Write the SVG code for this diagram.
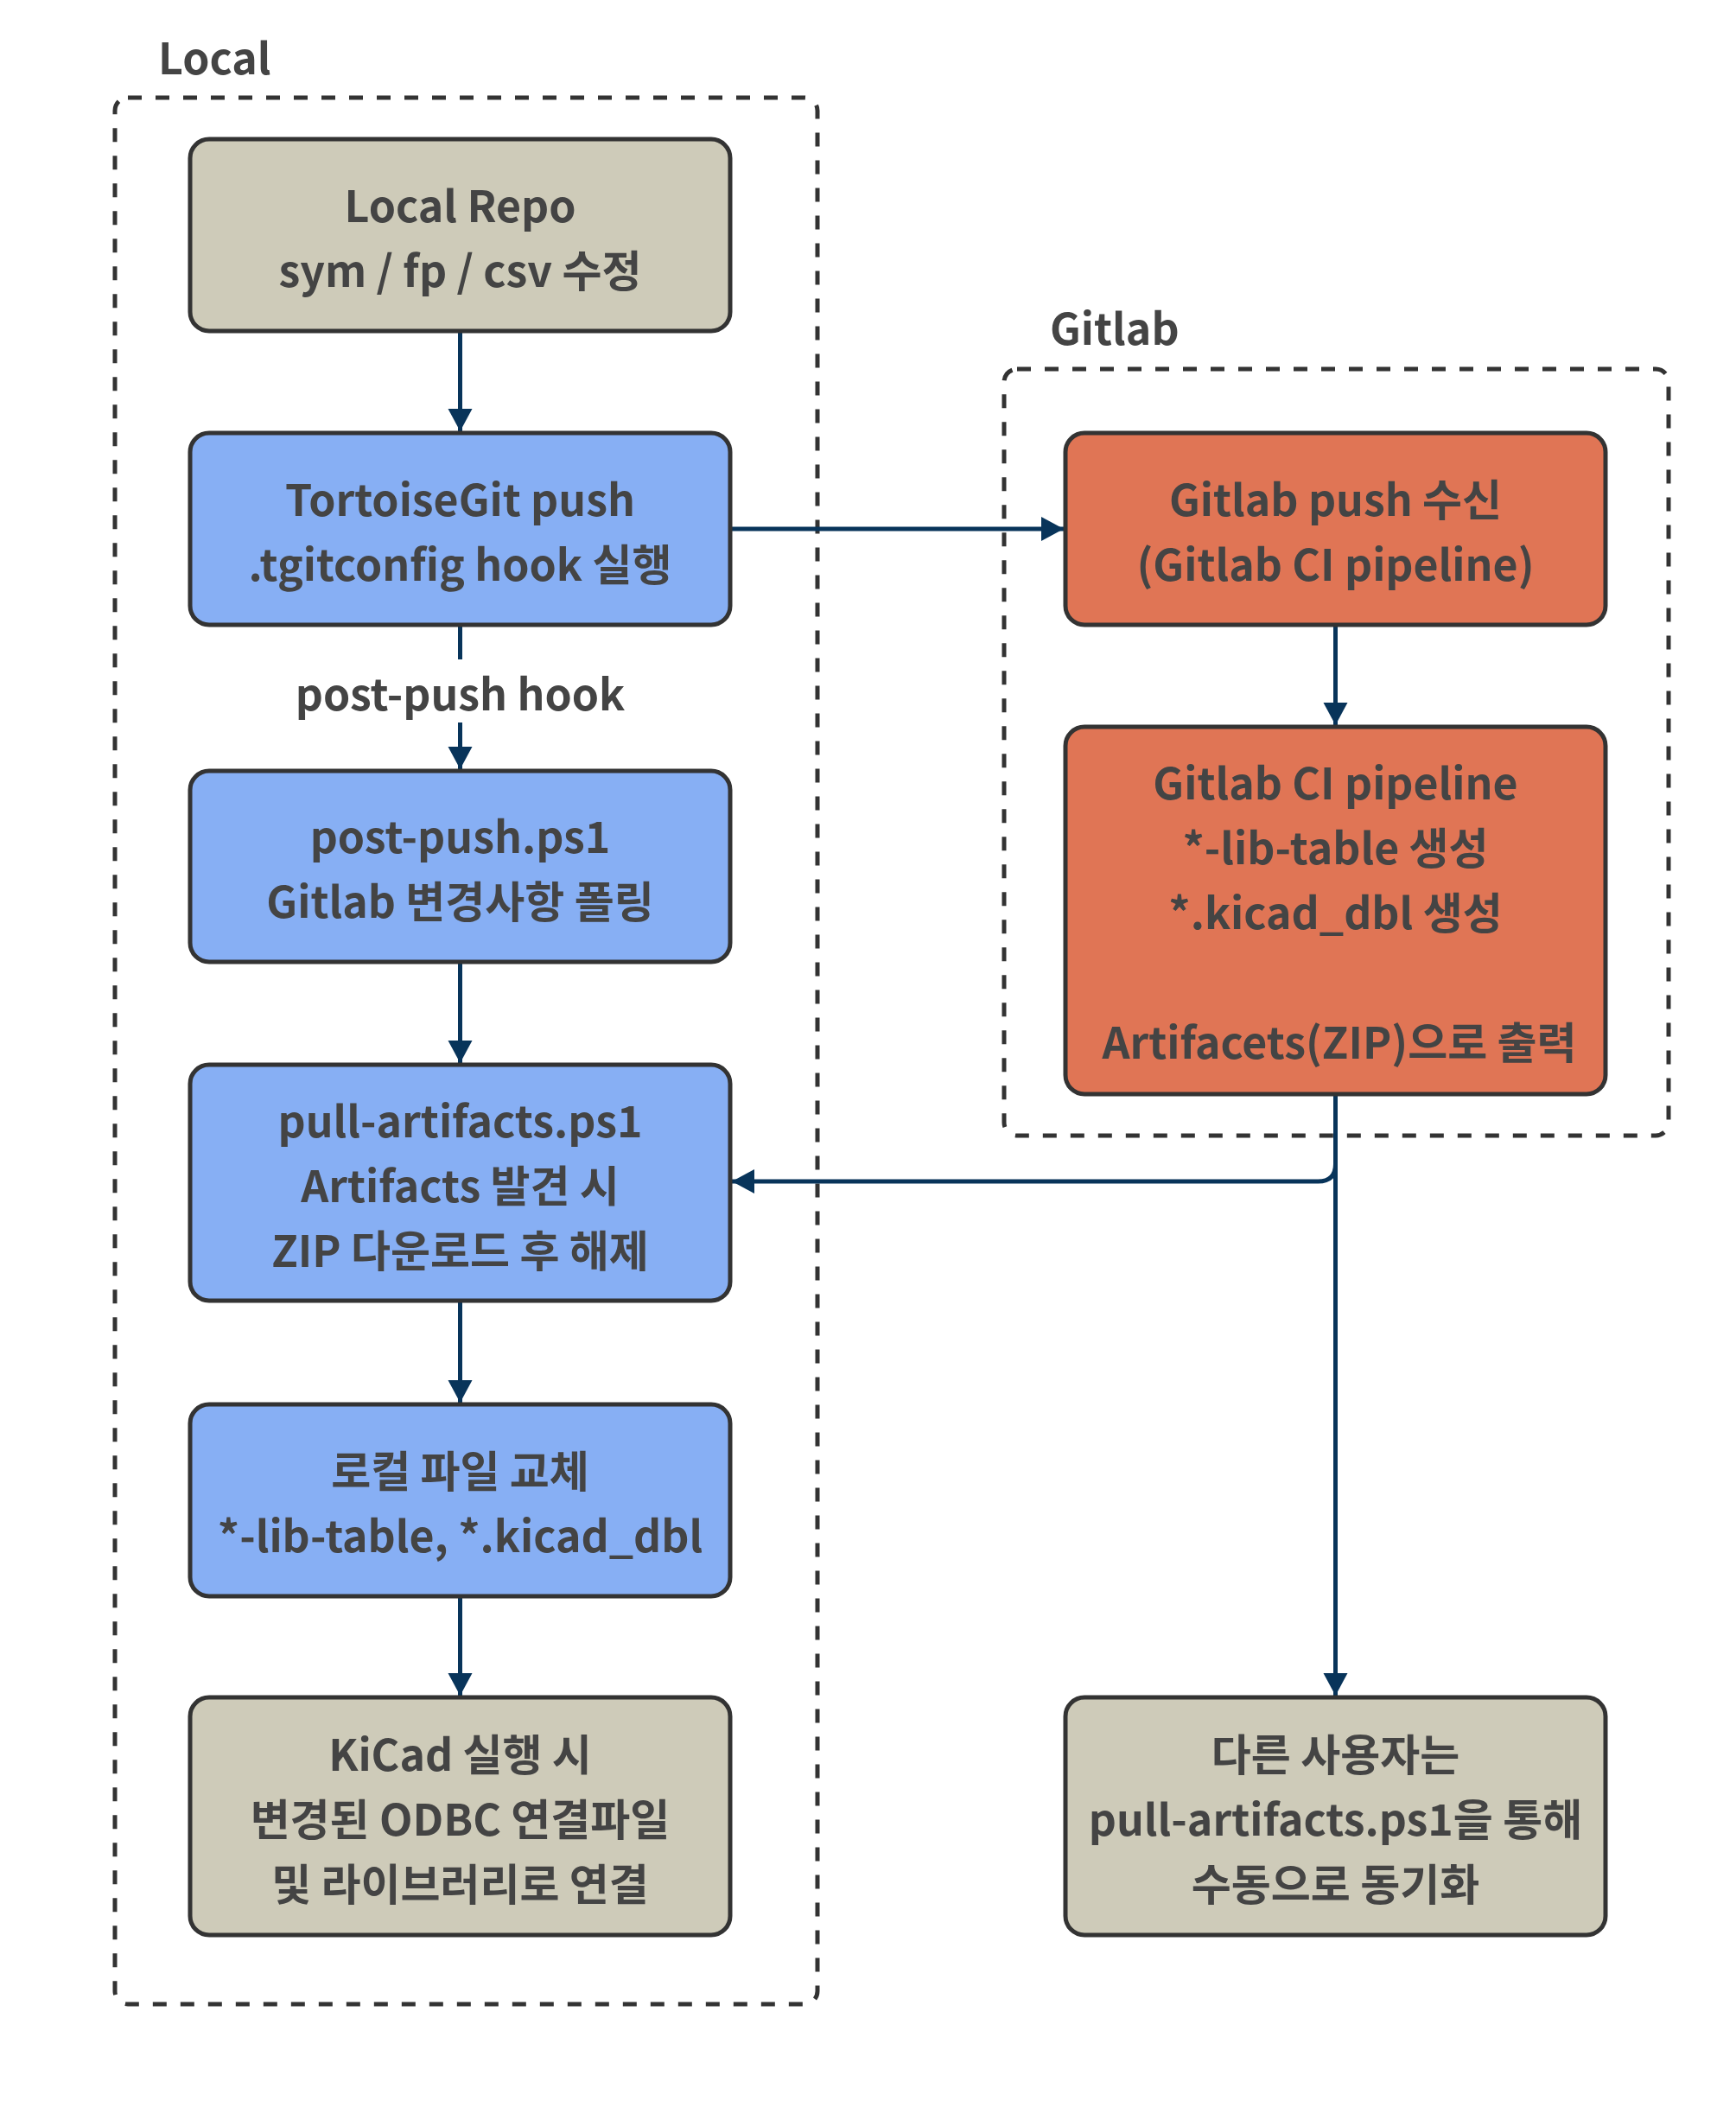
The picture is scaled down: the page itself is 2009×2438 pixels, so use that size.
<svg xmlns="http://www.w3.org/2000/svg" width="2009" height="2438" viewBox="0 0 2009 2438">
<style>
  text { font-family: "Noto Sans CJK KR", "Noto Sans", sans-serif; font-weight: 700; font-size: 50px; fill: #444444; }
  .lbl { text-anchor: middle; }
  .node rect { stroke: #333333; stroke-width: 5; }
  .tan { fill: #cecbb9; }
  .blue { fill: #87aff4; }
  .orange { fill: #e07555; }
  .group { fill: none; stroke: #333333; stroke-width: 5; stroke-dasharray: 16 16; }
  .edge { fill: none; stroke: #08345a; stroke-width: 5; }
</style>
<defs>
  <marker id="arrow" markerUnits="userSpaceOnUse" markerWidth="27" markerHeight="29" refX="26" refY="14" orient="auto">
    <path d="M0,0 L26,14 L0,28 z" fill="#08345a"/>
  </marker>
</defs>
<rect width="2009" height="2438" fill="#ffffff"/>

<g id="group-local">
  <rect class="group" x="133" y="113" width="813" height="2206" rx="15"/>
  <text x="183" y="86">Local</text>
</g>
<g id="group-gitlab">
  <rect class="group" x="1162" y="427" width="769" height="887" rx="15"/>
  <text x="1215" y="399">Gitlab</text>
</g>

<g id="connectors">
  <path class="edge" d="M532.5,383 V499" marker-end="url(#arrow)"/>
  <path class="edge" d="M532.5,723 V890" marker-end="url(#arrow)"/>
  <path class="edge" d="M532.5,1113 V1230" marker-end="url(#arrow)"/>
  <path class="edge" d="M532.5,1505 V1623" marker-end="url(#arrow)"/>
  <path class="edge" d="M532.5,1847 V1962" marker-end="url(#arrow)"/>
  <path class="edge" d="M845,612 H1231" marker-end="url(#arrow)"/>
  <path class="edge" d="M1545.5,723 V839" marker-end="url(#arrow)"/>
  <path class="edge" d="M1545.5,1266 V1347 Q1545.5,1367 1525.5,1367 H847" marker-end="url(#arrow)"/>
  <path class="edge" d="M1545.5,1266 V1962" marker-end="url(#arrow)"/>
  <g id="edge-label-post-push">
    <rect x="340" y="763" width="385" height="73" fill="#ffffff"/>
    <text class="lbl" x="532.5" y="822">post-push hook</text>
  </g>
</g>

<g id="node-local-repo" class="node">
  <rect class="tan" x="220" y="161" width="625" height="222" rx="22"/>
  <text class="lbl" x="532.5" y="257">Local Repo</text>
  <text class="lbl" x="532.5" y="332">sym / fp / csv 수정</text>
</g>
<g id="node-tortoisegit" class="node">
  <rect class="blue" x="220" y="501" width="625" height="222" rx="22"/>
  <text class="lbl" x="532.5" y="597">TortoiseGit push</text>
  <text class="lbl" x="532.5" y="672">.tgitconfig hook 실행</text>
</g>
<g id="node-post-push" class="node">
  <rect class="blue" x="220" y="892" width="625" height="221" rx="22"/>
  <text class="lbl" x="532.5" y="987">post-push.ps1</text>
  <text class="lbl" x="532.5" y="1062">Gitlab 변경사항 폴링</text>
</g>
<g id="node-pull-artifacts" class="node">
  <rect class="blue" x="220" y="1232" width="625" height="273" rx="22"/>
  <text class="lbl" x="532.5" y="1316">pull-artifacts.ps1</text>
  <text class="lbl" x="532.5" y="1391">Artifacts 발견 시</text>
  <text class="lbl" x="532.5" y="1466">ZIP 다운로드 후 해제</text>
</g>
<g id="node-replace" class="node">
  <rect class="blue" x="220" y="1625" width="625" height="222" rx="22"/>
  <text class="lbl" x="532.5" y="1721">로컬 파일 교체</text>
  <text class="lbl" x="532.5" y="1796">*-lib-table, *.kicad_dbl</text>
</g>
<g id="node-kicad" class="node">
  <rect class="tan" x="220" y="1964" width="625" height="275" rx="22"/>
  <text class="lbl" x="532.5" y="2049">KiCad 실행 시</text>
  <text class="lbl" x="532.5" y="2124">변경된 ODBC 연결파일</text>
  <text class="lbl" x="532.5" y="2199">및 라이브러리로 연결</text>
</g>
<g id="node-gitlab-push" class="node">
  <rect class="orange" x="1233" y="501" width="625" height="222" rx="22"/>
  <text class="lbl" x="1545.5" y="597">Gitlab push 수신</text>
  <text class="lbl" x="1545.5" y="672">(Gitlab CI pipeline)</text>
</g>
<g id="node-ci" class="node">
  <rect class="orange" x="1233" y="841" width="625" height="425" rx="22"/>
  <text class="lbl" x="1545.5" y="925">Gitlab CI pipeline</text>
  <text class="lbl" x="1545.5" y="1000">*-lib-table 생성</text>
  <text class="lbl" x="1545.5" y="1075">*.kicad_dbl 생성</text>
  <text class="lbl" x="1550" y="1225">Artifacets(ZIP)으로 출력</text>
</g>
<g id="node-other-users" class="node">
  <rect class="tan" x="1233" y="1964" width="625" height="275" rx="22"/>
  <text class="lbl" x="1545.5" y="2049">다른 사용자는</text>
  <text class="lbl" x="1545.5" y="2124">pull-artifacts.ps1을 통해</text>
  <text class="lbl" x="1545.5" y="2199">수동으로 동기화</text>
</g>
</svg>
